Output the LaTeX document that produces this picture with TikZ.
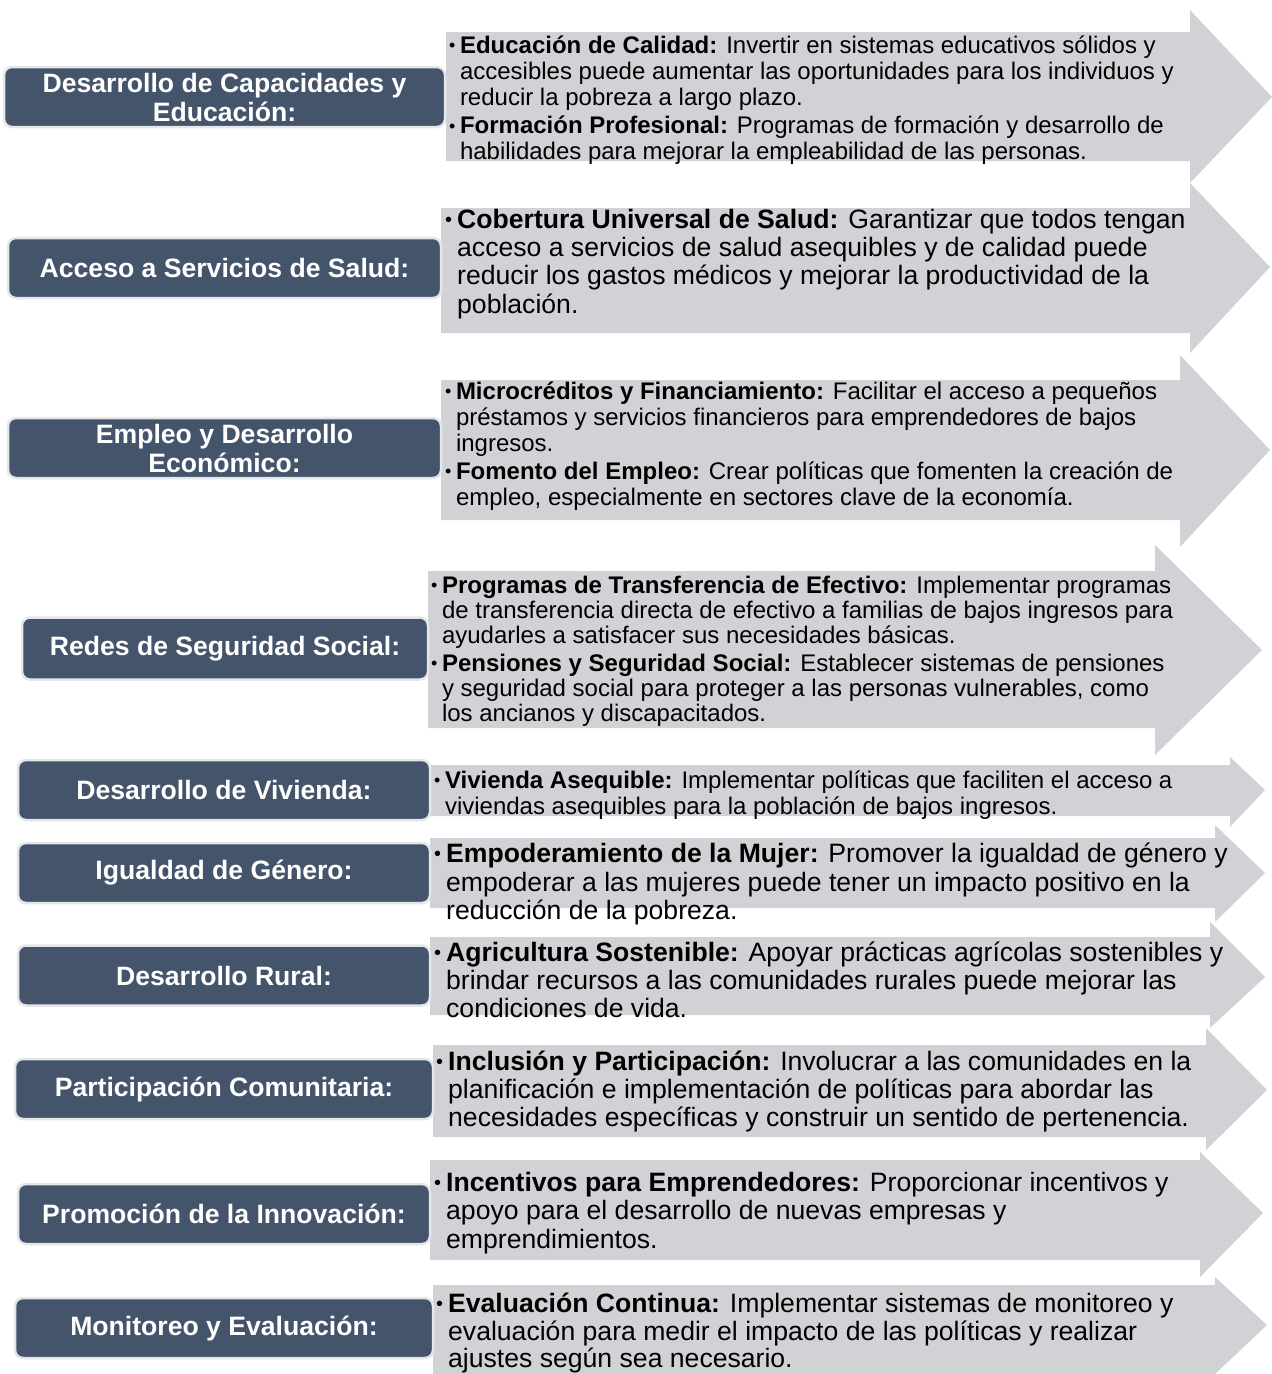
\documentclass[tikz,border=0pt]{standalone}
\usepackage{fontspec}
\setmainfont{Liberation Sans}
\usepackage{graphicx}

\definecolor{slate}{HTML}{44546A}
\definecolor{arrowgray}{HTML}{D0D2D5}
\definecolor{glow}{HTML}{E4E6E9}

\newcommand{\dotitem}{\makebox[0.45em][l]{\raisebox{0.12ex}{\scalebox{0.75}{\textbullet}}}}
\newcommand{\itemgap}{\hspace*{0.45em}}

\begin{document}
\begin{tikzpicture}[x=1pt, y=-1pt,
    labelbox/.style={draw=glow, line width=2.5pt, fill=slate, rounded corners=8pt,
      text=white, align=center, inner sep=0pt,
      font=\fontsize{26.6}{29}\selectfont\bfseries},
    itemtext/.style={anchor=west, inner sep=0pt, align=left},
    arrowfill/.style={fill=arrowgray}]
    \useasboundingbox (0,0) rectangle (1272,1374);

    % arrows behind
    \fill [arrowfill] (446,  32) -- (1190,  32) -- (1190,  10) -- (1272,  97) --
        (1190, 183) -- (1190, 161) -- (446, 161) -- cycle;
    \fill [arrowfill] (441, 208) -- (1190, 208) -- (1190, 183) -- (1270, 267) --
        (1190, 353) -- (1190, 333) -- (441, 333) -- cycle;
    \fill [arrowfill] (441, 380) -- (1180, 380) -- (1180, 355) -- (1270, 450) --
        (1180, 547) -- (1180, 520) -- (441, 520) -- cycle;
    \fill [arrowfill] (428, 571) -- (1155, 571) -- (1155, 545) -- (1262, 650) --
        (1155, 755) -- (1155, 728) -- (428, 728) -- cycle;
    \fill [arrowfill] (430, 765) -- (1230, 765) -- (1230, 757) -- (1265, 790) --
        (1230, 827) -- (1230, 816) -- (430, 816) -- cycle;
    \fill [arrowfill] (430, 838) -- (1215, 838) -- (1215, 825) -- (1265, 873) --
        (1215, 922) -- (1215, 908) -- (430, 908) -- cycle;
    \fill [arrowfill] (430, 937) -- (1210, 937) -- (1210, 922) -- (1265, 977) --
        (1210, 1028) -- (1210, 1015) -- (430, 1015) -- cycle;
    \fill [arrowfill] (433, 1045) -- (1206, 1045) -- (1206, 1028) -- (1267, 1090) --
        (1206, 1150) -- (1206, 1137) -- (433, 1137) -- cycle;
    \fill [arrowfill] (430, 1160) -- (1200, 1160) -- (1200, 1152) -- (1263, 1213) --
        (1200, 1277) -- (1200, 1260) -- (430, 1260) -- cycle;
    \fill [arrowfill] (433, 1285) -- (1215, 1285) -- (1215, 1277) -- (1267, 1325) --
        (1215, 1374) -- (433, 1374) -- cycle;

    % labels
    \node [labelbox, minimum width=441pt, minimum height=60pt] (capacidades) at (224.5, 97)
      {Desarrollo de Capacidades y\\Educación:};
    \node [labelbox, minimum width=433pt, minimum height=60pt] (salud) at (224.5, 268)
      {Acceso a Servicios de Salud:};
    \node [labelbox, minimum width=433pt, minimum height=60pt] (empleo) at (224.5, 448)
      {Empleo y Desarrollo\\Económico:};
    \node [labelbox, minimum width=406pt, minimum height=62pt] (redes) at (225, 648.5)
      {Redes de Seguridad Social:};
    \node [labelbox, minimum width=412pt, minimum height=60pt] (vivienda) at (224, 790)
      {Desarrollo de Vivienda:};
    \node [labelbox, minimum width=412pt, minimum height=60pt] (genero) at (224, 873)
      {Igualdad de Género:};
    \node [labelbox, minimum width=412pt, minimum height=60pt] (rural) at (224, 975.5)
      {Desarrollo Rural:};
    \node [labelbox, minimum width=418pt, minimum height=60pt] (comunidad) at (224, 1089)
      {Participación Comunitaria:};
    \node [labelbox, minimum width=412pt, minimum height=60pt] (innovacion) at (224, 1214)
      {Promoción de la Innovación:};
    \node [labelbox, minimum width=418pt, minimum height=60pt] (monitoreo) at (224, 1328)
      {Monitoreo y Evaluación:};

    % texts on the arrows
    \node [itemtext, font=\fontsize{24}{26}\selectfont] (capacidades-txt) at (449, 100) {%
      \dotitem\textbf{Educación de Calidad:} Invertir en sistemas educativos sólidos y\\
      \itemgap accesibles puede aumentar las oportunidades para los individuos y\\
      \itemgap reducir la pobreza a largo plazo.\\[2.5pt]
      \dotitem\textbf{Formación Profesional:} Programas de formación y desarrollo de\\
      \itemgap habilidades para mejorar la empleabilidad de las personas.
    };
    \node [itemtext, font=\fontsize{26.6}{28.2}\selectfont] (salud-txt) at (445, 264) {%
      \dotitem\textbf{Cobertura Universal de Salud:} Garantizar que todos tengan\\
      \itemgap acceso a servicios de salud asequibles y de calidad puede\\
      \itemgap reducir los gastos médicos y mejorar la productividad de la\\
      \itemgap población.
    };
    \node [itemtext, font=\fontsize{24}{25.8}\selectfont] (empleo-txt) at (445, 446) {%
      \dotitem\textbf{Microcréditos y Financiamiento:} Facilitar el acceso a pequeños\\
      \itemgap préstamos y servicios financieros para emprendedores de bajos\\
      \itemgap ingresos.\\[2.5pt]
      \dotitem\textbf{Fomento del Empleo:} Crear políticas que fomenten la creación de\\
      \itemgap empleo, especialmente en sectores clave de la economía.
    };
    \node [itemtext, font=\fontsize{24}{25}\selectfont] (redes-txt) at (431, 651) {%
      \dotitem\textbf{Programas de Transferencia de Efectivo:} Implementar programas\\
      \itemgap de transferencia directa de efectivo a familias de bajos ingresos para\\
      \itemgap ayudarles a satisfacer sus necesidades básicas.\\[3pt]
      \dotitem\textbf{Pensiones y Seguridad Social:} Establecer sistemas de pensiones\\
      \itemgap y seguridad social para proteger a las personas vulnerables, como\\
      \itemgap los ancianos y discapacitados.
    };
    \node [itemtext, font=\fontsize{24}{26}\selectfont] (vivienda-txt) at (434, 795) {%
      \dotitem\textbf{Vivienda Asequible:} Implementar políticas que faciliten el acceso a\\
      \itemgap viviendas asequibles para la población de bajos ingresos.
    };
    \node [itemtext, font=\fontsize{26.6}{28.5}\selectfont] (genero-txt) at (434, 884) {%
      \dotitem\textbf{Empoderamiento de la Mujer:} Promover la igualdad de género y\\
      \itemgap empoderar a las mujeres puede tener un impacto positivo en la\\
      \itemgap reducción de la pobreza.
    };
    \node [itemtext, font=\fontsize{26.6}{28}\selectfont] (rural-txt) at (434, 980) {%
      \dotitem\textbf{Agricultura Sostenible:} Apoyar prácticas agrícolas sostenibles y\\
      \itemgap brindar recursos a las comunidades rurales puede mejorar las\\
      \itemgap condiciones de vida.
    };
    \node [itemtext, font=\fontsize{26.6}{28}\selectfont] (comunidad-txt) at (436, 1091) {%
      \dotitem\textbf{Inclusión y Participación:} Involucrar a las comunidades en la\\
      \itemgap planificación e implementación de políticas para abordar las\\
      \itemgap necesidades específicas y construir un sentido de pertenencia.
    };
    \node [itemtext, font=\fontsize{26.6}{28.5}\selectfont] (innovacion-txt) at (434, 1213) {%
      \dotitem\textbf{Incentivos para Emprendedores:} Proporcionar incentivos y\\
      \itemgap apoyo para el desarrollo de nuevas empresas y\\
      \itemgap emprendimientos.
    };
    \node [itemtext, font=\fontsize{26.6}{27.5}\selectfont] (monitoreo-txt) at (436, 1333) {%
      \dotitem\textbf{Evaluación Continua:} Implementar sistemas de monitoreo y\\
      \itemgap evaluación para medir el impacto de las políticas y realizar\\
      \itemgap ajustes según sea necesario.
    };
  \end{tikzpicture}
\end{document}
